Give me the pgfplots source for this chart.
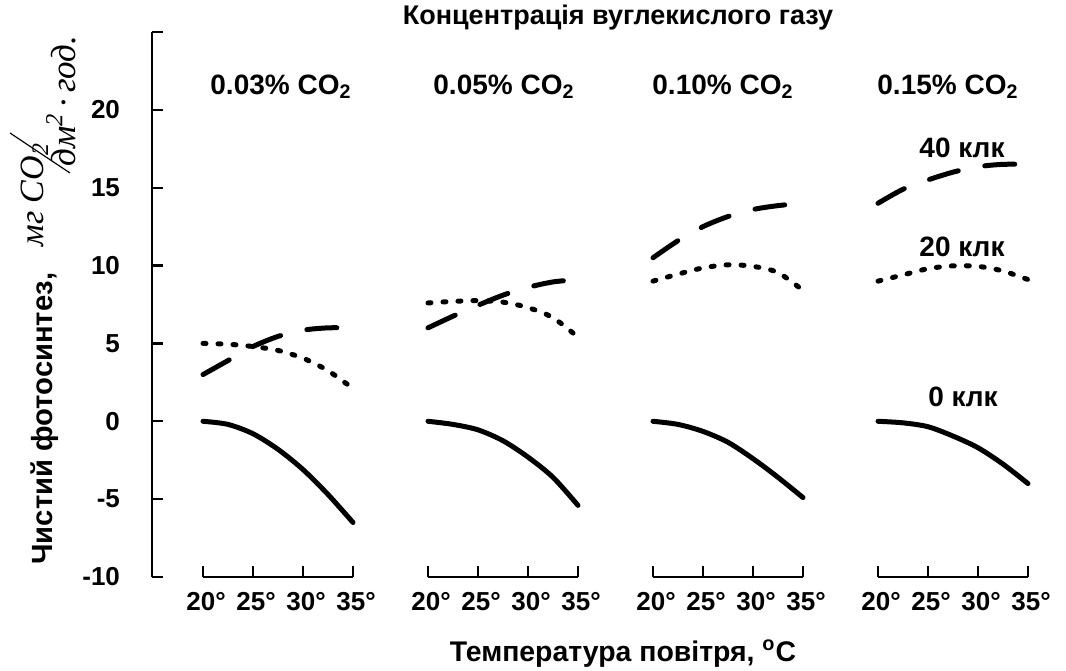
\documentclass[border=0pt]{standalone}
\usepackage{fontspec}
\setmainfont{Liberation Sans}
\newfontfamily\unitfont{Liberation Serif}
\usepackage{pgfplots}
\usepackage{pgfplotstable}
\pgfplotsset{compat=1.18}

% T = temperature (deg C); L0, L20, L40 = light 0, 20, 40 klx
\pgfplotstableread{
T    L0     L20    L40
20    0.00  5.00   3.00
22.5 -0.20  4.95   3.90
25   -0.80  4.80   4.80
27.5 -1.80  4.55   5.45
30   -3.10  4.05   5.85
32.5 -4.70  3.25   6.00
35   -6.50  2.10   6.00
}\gA
\pgfplotstableread{
T    L0     L20    L40
20    0.00  7.60   6.00
22.5 -0.20  7.70   6.75
25   -0.55  7.75   7.45
27.5 -1.25  7.65   8.10
30   -2.30  7.30   8.60
32.5 -3.60  6.65   8.95
35   -5.40  5.40   9.10
}\gB
\pgfplotstableread{
T    L0     L20    L40
20    0.00  9.00  10.50
22.5 -0.20  9.45  11.60
25   -0.65  9.85  12.50
27.5 -1.35 10.05  13.15
30   -2.40  9.95  13.60
32.5 -3.60  9.55  13.85
35   -4.90  8.40  14.00
}\gC
\pgfplotstableread{
T    L0     L20    L40
20    0.00  9.00  14.00
22.5 -0.10  9.40  14.90
25   -0.35  9.80  15.50
27.5 -0.95  9.98  16.00
30   -1.70  9.95  16.35
32.5 -2.75  9.65  16.50
35   -4.00  9.10  16.50
}\gD

\tikzset{
  c0/.style={black, line width=2.5pt, line cap=round, smooth},
  c20/.style={black, line width=2.5pt, line cap=round, smooth, dash pattern=on 1.5pt off 6pt},
  c40/.style={black, line width=2.5pt, line cap=round, smooth, dash pattern=on 15pt off 13.5pt},
}

\begin{document}
\begin{tikzpicture}
\useasboundingbox (0,0) rectangle (533pt,335pt);
\begin{axis}[
  at={(76pt,46.5pt)}, anchor=south west,
  scale only axis, width=450.5pt, height=272.5pt,
  xmin=-5.1, xmax=85, ymin=-10, ymax=25,
  clip=false,
  axis x line*=bottom, axis y line*=left,
  x axis line style={draw=none},
  y axis line style={-, line width=1.2pt},
  tick align=inside,
  major tick length=5.5pt,
  every tick/.style={black, line width=1.2pt},
  xtick={0,5,10,15,22.5,27.5,32.5,37.5,45,50,55,60,67.5,72.5,77.5,82.5},
  xticklabels={20°,25°,30°,35°,20°,25°,30°,35°,20°,25°,30°,35°,20°,25°,30°,35°},
  ytick={-10,-5,0,5,10,15,20,25},
  yticklabels={-10,-5,0,5,10,15,20,{}},
  xticklabel style={font=\fontsize{13}{15}\selectfont\bfseries, yshift=-4pt, xshift=1.5pt},
  yticklabel style={font=\fontsize{13}{15}\selectfont\bfseries, xshift=-12.5pt},
]
% group axis segments
\draw[line width=1.2pt] (axis cs:0,-10) -- (axis cs:15,-10);
\draw[line width=1.2pt] (axis cs:22.5,-10) -- (axis cs:37.5,-10);
\draw[line width=1.2pt] (axis cs:45,-10) -- (axis cs:60,-10);
\draw[line width=1.2pt] (axis cs:67.5,-10) -- (axis cs:82.5,-10);

\addplot[c0]  table[x expr=\thisrow{T}-20, y=L0]  {\gA};
\addplot[c20] table[x expr=\thisrow{T}-20, y=L20] {\gA};
\addplot[c40] table[x expr=\thisrow{T}-20, y=L40] {\gA};

\addplot[c0]  table[x expr=\thisrow{T}+2.5, y=L0]  {\gB};
\addplot[c20] table[x expr=\thisrow{T}+2.5, y=L20] {\gB};
\addplot[c40] table[x expr=\thisrow{T}+2.5, y=L40] {\gB};

\addplot[c0]  table[x expr=\thisrow{T}+25, y=L0]  {\gC};
\addplot[c20] table[x expr=\thisrow{T}+25, y=L20] {\gC};
\addplot[c40] table[x expr=\thisrow{T}+25, y=L40] {\gC};

\addplot[c0]  table[x expr=\thisrow{T}+47.5, y=L0]  {\gD};
\addplot[c20] table[x expr=\thisrow{T}+47.5, y=L20] {\gD};
\addplot[c40] table[x expr=\thisrow{T}+47.5, y=L40] {\gD};

% group titles
\begin{scope}[every node/.style={font=\fontsize{14}{16}\selectfont\bfseries, anchor=base west, inner sep=0pt}]
\node at (axis cs:0.7,21.0)  {0.03\% CO\textsubscript{2}};
\node at (axis cs:23.0,21.0) {0.05\% CO\textsubscript{2}};
\node at (axis cs:44.9,21.0) {0.10\% CO\textsubscript{2}};
\node at (axis cs:67.4,21.0) {0.15\% CO\textsubscript{2}};
\end{scope}
% light labels
\begin{scope}[every node/.style={font=\fontsize{14}{16}\selectfont\bfseries, inner sep=0pt}]
\node at (axis cs:75.9,17.56) {40 клк};
\node at (axis cs:75.9,11.2)  {20 клк};
\node at (axis cs:76.0,1.6)   {0 клк};
\end{scope}
\end{axis}

% title and axis titles
\node[font=\fontsize{13.5}{16}\selectfont\bfseries, anchor=base, inner sep=0pt] at (309pt,322.5pt) {Концентрація вуглекислого газу};
\node[font=\fontsize{14.2}{16}\selectfont\bfseries, anchor=base, inner sep=0pt] at (311.5pt,4.5pt) {Температура повітря, \textsuperscript{o}C};
\node[font=\fontsize{14.6}{17}\selectfont\bfseries, rotate=90, anchor=base west, inner sep=0pt] at (26pt,52.5pt) {Чистий фотосинтез,};
\node[font=\unitfont\itshape\fontsize{17}{20}\selectfont, rotate=90, anchor=base west, inner sep=0pt] at (21.5pt,211.5pt) {мг CO\textsubscript{2}};
\node[font=\unitfont\itshape\fontsize{17.5}{20}\selectfont, rotate=90, anchor=base west, inner sep=0pt] at (37.5pt,251.5pt) {дм\textsuperscript{2}\,·\,год.};
\draw[line width=0.6pt] (5pt,268.5pt) -- (35pt,248.5pt);
\end{tikzpicture}
\end{document}
